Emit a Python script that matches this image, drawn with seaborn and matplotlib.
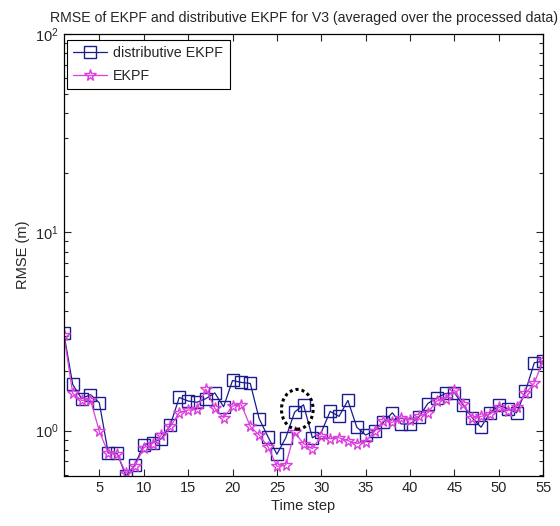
import numpy as np
import pandas as pd
import matplotlib
matplotlib.use("Agg")
import matplotlib.pyplot as plt
import seaborn as sns
from matplotlib.patches import Ellipse
from matplotlib.ticker import LogLocator, NullFormatter

time_step = list(range(1, 56))
distributive_ekpf = [3.09, 1.71, 1.45, 1.52, 1.38, 0.77, 0.77, 0.59, 0.67, 0.85,
                     0.87, 0.91, 1.07, 1.47, 1.41, 1.39, 1.45, 1.55, 1.32, 1.79,
                     1.75, 1.73, 1.15, 0.93, 0.76, 0.92, 1.24, 1.35, 0.92, 0.98,
                     1.25, 1.18, 1.42, 1.04, 0.95, 1.00, 1.10, 1.23, 1.08, 1.08,
                     1.17, 1.37, 1.46, 1.54, 1.55, 1.34, 1.16, 1.04, 1.23, 1.34,
                     1.29, 1.23, 1.58, 2.20, 2.24]
ekpf = [3.05, 1.54, 1.42, 1.43, 0.99, 0.77, 0.76, 0.61, 0.66, 0.82,
        0.86, 0.95, 1.05, 1.23, 1.27, 1.28, 1.62, 1.30, 1.16, 1.33,
        1.35, 1.05, 0.95, 0.83, 0.66, 0.67, 0.98, 0.86, 0.81, 0.94,
        0.91, 0.92, 0.89, 0.86, 0.88, 0.99, 1.12, 1.10, 1.16, 1.13,
        1.18, 1.23, 1.41, 1.45, 1.60, 1.36, 1.16, 1.18, 1.21, 1.31,
        1.26, 1.32, 1.54, 1.74, 2.26]
series_names = ["distributive EKPF", "EKPF"]
x_ticks = list(range(5, 56, 5))
title_text = "RMSE of EKPF and distributive EKPF for V3 (averaged over the processed data)"

df = pd.DataFrame({
    "Time step": time_step * 2,
    "RMSE (m)": distributive_ekpf + ekpf,
    "method": [series_names[0]] * len(time_step) + [series_names[1]] * len(time_step),
})

sns.set_style("ticks")
plt.rcParams["font.family"] = ["Liberation Sans", "DejaVu Sans"]
plt.rcParams["xtick.direction"] = "in"
plt.rcParams["ytick.direction"] = "in"

fig = plt.figure(figsize=(5.6, 5.26), dpi=100)
ax = fig.add_axes([0.114, 0.095, 0.856, 0.840])

colors = {"distributive EKPF": "#1c1c8e", "EKPF": "#dd3fdd"}
sns.lineplot(data=df, x="Time step", y="RMSE (m)", hue="method", style="method",
             palette=colors, markers={"distributive EKPF": "s", "EKPF": "*"},
             dashes=False, ax=ax, linewidth=0.9, legend=False)

lines = ax.get_lines()
for ln, nm in zip(lines, series_names):
    c = colors[nm]
    if nm == "distributive EKPF":
        ln.set_markersize(8)
    else:
        ln.set_markersize(8.5)
    ln.set_markerfacecolor("none")
    ln.set_markeredgecolor(c)
    ln.set_markeredgewidth(1.0)
    ln.set_label(nm)

ax.set_yscale("log")
ax.set_xlim(1, 55)
ax.set_ylim(0.59, 100)
ax.set_xticks(x_ticks)
ax.set_xticklabels([str(t) for t in x_ticks])
ax.yaxis.set_major_locator(LogLocator(base=10, numticks=10))
ax.yaxis.set_minor_locator(LogLocator(base=10, subs=np.arange(2, 10), numticks=10))
ax.yaxis.set_minor_formatter(NullFormatter())
ax.tick_params(which="both", top=True, right=True, direction="in", labelsize=10.5)
ax.tick_params(which="major", length=5, width=0.8)
ax.tick_params(which="minor", length=3, width=0.8)
for s in ax.spines.values():
    s.set_linewidth(0.9)
    s.set_color("black")

ax.set_xlabel("Time step", fontsize=10.5, labelpad=3)
ax.set_ylabel("RMSE (m)", fontsize=10.5, labelpad=4)
ax.set_title(title_text, fontsize=10.2, pad=9)

ax.add_patch(Ellipse((0.487, 0.151), 0.066, 0.09, transform=ax.transAxes,
                     fill=False, edgecolor="black", linestyle=(0, (1, 1)), linewidth=2.2,
                     zorder=5))

leg = ax.legend(handles=lines, labels=series_names, loc="upper left", fontsize=10.3,
                frameon=True, fancybox=False, edgecolor="black", framealpha=1,
                borderpad=0.45, handlelength=2.4, handletextpad=0.4, labelspacing=0.6,
                borderaxespad=0, bbox_to_anchor=(0.006, 0.987))
leg.get_frame().set_linewidth(0.8)

fig.savefig("out.png", dpi=100)
